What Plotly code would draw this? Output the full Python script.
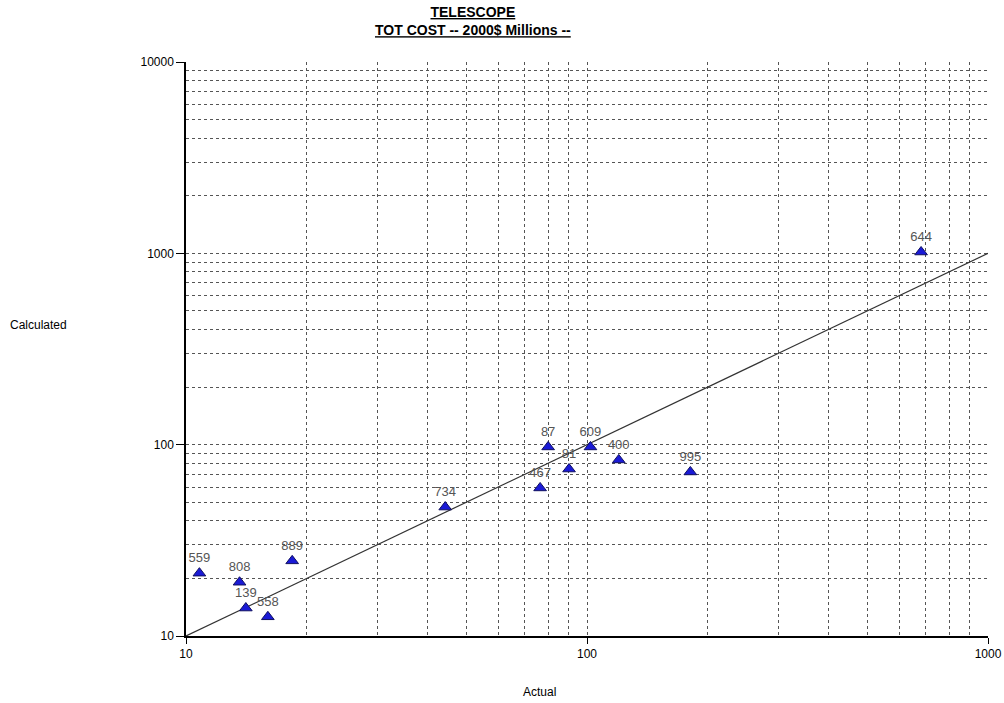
import plotly.graph_objects as go

ids = ["559", "808", "889", "139", "558", "734", "467", "87", "81", "609", "400", "995", "644"]
actual = [10.8, 13.6, 18.4, 14.1, 16.0, 44.3, 76.4, 80.0, 90.2, 102.0, 120.0, 181.0, 681.0]
calculated = [21.3, 19.1, 24.7, 14.0, 12.6, 47.2, 59.4, 97.3, 74.6, 97.3, 83.2, 72.0, 1016.0]

line_x = [10, 1000]
line_y = [10, 1000]

x_major = [10, 100, 1000]
y_major = [10, 100, 1000, 10000]
x_minor = [m * d for d in (10, 100) for m in range(2, 10)] + [100, 1000]
y_minor = [m * d for d in (10, 100, 1000) for m in range(2, 10)] + [100, 1000, 10000]

fig = go.Figure()
fig.add_trace(go.Scatter(x=line_x, y=line_y, mode="lines",
                         line=dict(color="#333333", width=1.2), hoverinfo="skip"))
fig.add_trace(go.Scatter(x=actual, y=calculated, mode="markers+text", text=ids,
                         textposition="top center",
                         textfont=dict(family="Arial, Liberation Sans", size=13, color="#555555"),
                         marker=dict(symbol="triangle-up", size=11, color="#1a1ad6",
                                     line=dict(color="#101060", width=1))))

grid = dict(showgrid=True, gridcolor="#555555", griddash="3px,3px", gridwidth=1)
fig.update_xaxes(type="log", range=[1, 3], tickmode="array", tickvals=x_major,
                 ticktext=[str(v) for v in x_major], ticks="outside", ticklen=6,
                 tickcolor="#000", showline=True, linecolor="#000", linewidth=1.5,
                 zeroline=False, showgrid=False, automargin=False,
                 minor=dict(tickvals=x_minor, ticks="", **grid),
                 tickfont=dict(family="Arial, Liberation Sans", size=12, color="#000"))
fig.update_yaxes(type="log", range=[1, 4], tickmode="array", tickvals=y_major,
                 ticktext=[str(v) for v in y_major], ticks="outside", ticklen=8,
                 tickcolor="#000", showline=True, linecolor="#000", linewidth=1.5,
                 zeroline=False, showgrid=False, automargin=False,
                 minor=dict(tickvals=y_minor, ticks="", **grid),
                 tickfont=dict(family="Arial, Liberation Sans", size=12, color="#000"))

fig.update_layout(
    width=1004, height=703, showlegend=False,
    paper_bgcolor="white", plot_bgcolor="white",
    margin=dict(l=186, r=16, t=62, b=67),
    font=dict(family="Arial, Liberation Sans", color="#000"),
    annotations=[
        dict(text="<b><u>TELESCOPE</u></b><br><b><u>TOT COST -- 2000$ Millions --</u></b>",
             xref="paper", yref="paper", x=(473 - 186) / 802, y=1, yshift=22,
             xanchor="center", yanchor="bottom", showarrow=False,
             font=dict(size=14, color="#000"), align="center"),
        dict(text="Calculated", xref="paper", yref="paper",
             x=(8 - 186) / 802, y=(636 - 325) / 574, xanchor="left", yanchor="middle",
             showarrow=False, font=dict(size=12, color="#000")),
        dict(text="Actual", xref="paper", yref="paper",
             x=(539 - 186) / 802, y=-(692 - 636) / 574, xanchor="center", yanchor="middle",
             showarrow=False, font=dict(size=12, color="#000")),
    ],
)

fig.write_html("out.html")
